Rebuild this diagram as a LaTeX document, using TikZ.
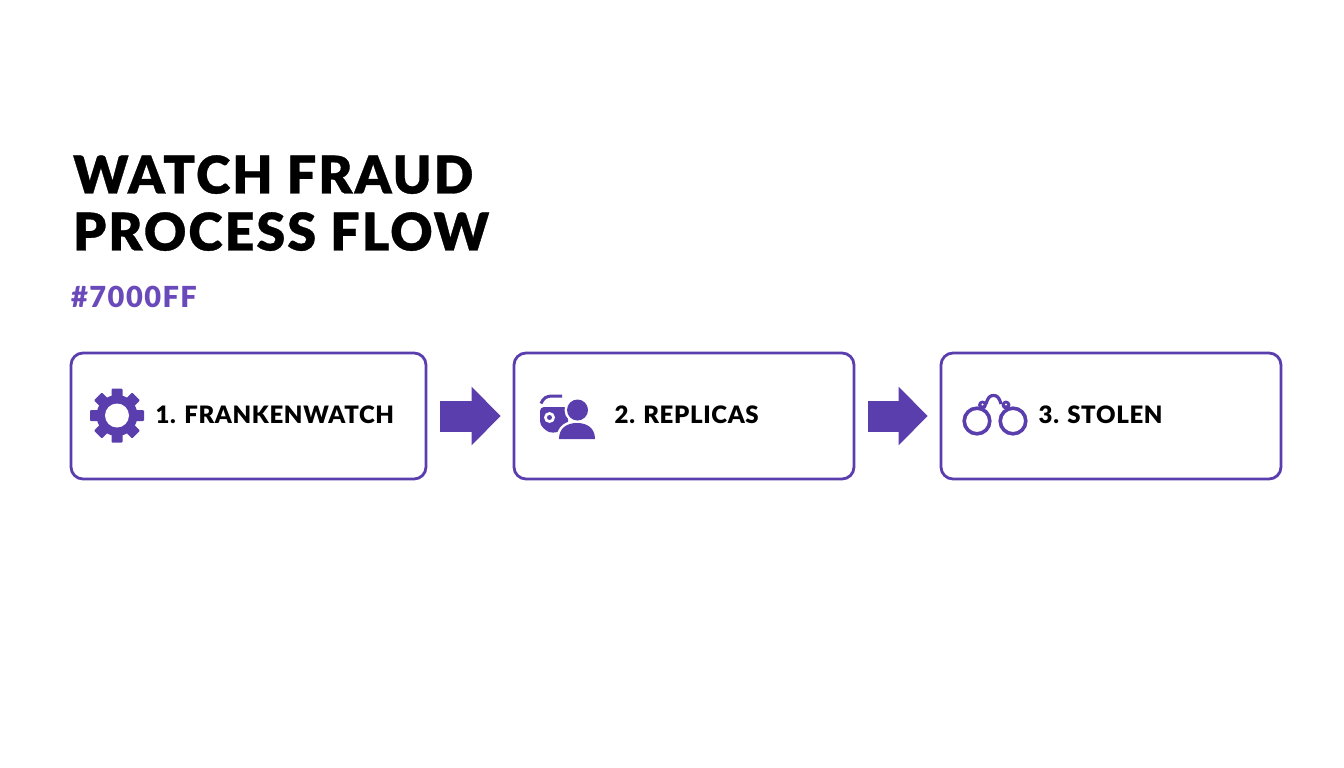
\documentclass[tikz,border=0pt]{standalone}
\usepackage{fontspec}
\setmainfont{Lato}
\newfontfamily\titlefont{Lato}[BoldFont={Lato Black},BoldFeatures={FakeBold=0.6,LetterSpace=4}]
\newfontfamily\labelfont{Lato}[BoldFont={Lato Black},BoldFeatures={LetterSpace=2.7}]
\newfontfamily\tagfont{Lato}[BoldFont={Lato Black},BoldFeatures={LetterSpace=5}]
\usetikzlibrary{arrows.meta}
\definecolor{fraudpurple}{HTML}{5A3EAE}
\definecolor{tagpurple}{HTML}{6A4ABA}
\tikzset{
    stepbox/.style={draw=fraudpurple,line width=2.8pt,rounded corners=12pt,minimum height=126pt,inner sep=0pt},
    steplabel/.style={anchor=base west,inner sep=0pt,font=\fontsize{24}{28}\labelfont\bfseries},
    blockarrow/.style={draw=fraudpurple,line width=31pt,-{Triangle[length=29pt,width=57pt]},shorten <=13pt,shorten >=12pt}
}
\begin{document}
\begin{tikzpicture}[x=1pt,y=-1pt]
        \useasboundingbox (0,0) rectangle (1344,768);

        % heading
        \node[anchor=north west,inner sep=0pt,align=left,font=\fontsize{52}{57}\titlefont\bfseries] (title) at (73,155) {WATCH FRAUD\\PROCESS FLOW};
        \node[anchor=base west,inner sep=0pt,text=tagpurple,font=\fontsize{29}{32}\tagfont\bfseries] (tag) at (71,307) {\#7000FF};

        % the three boxes
        \node[stepbox,minimum width=355pt] (frankenwatch) at (248.5,416) {};
        \node[stepbox,minimum width=340pt] (replicas) at (684,416) {};
        \node[stepbox,minimum width=340pt] (stolen) at (1111,416) {};

        \node[steplabel] (frankenlabel) at (155.5,423) {1. FRANKENWATCH};
        \node[steplabel] (replicalabel) at (614.5,423) {2. REPLICAS};
        \node[steplabel] (stolenlabel) at (1038.5,423) {3. STOLEN};

        % arrows between boxes
        \draw[blockarrow] (frankenwatch.east) -- (replicas.west);
        \draw[blockarrow] (replicas.east) -- (stolen.west);

        % gear
        \foreach \x in {0,45,...,315} {
                \fill[fraudpurple,rounded corners=1pt,shift={(117,415.5)},rotate=\x] (-5.5,-27) rectangle (5.5,-14);
        }
        \fill[fraudpurple] (117,415.5) circle(20.5);
        \fill[white] (117,415.5) circle(12);

        % camera and person
        \fill[fraudpurple,rounded corners=4pt] (540,407) -- (568,407) -- (568,431) -- (549,433) -- (540,425) -- cycle;
        \fill[white] (549.5,417.5) circle(5.5);
        \fill[fraudpurple] (549.5,417.5) circle(2.5);
        \draw[fraudpurple,line width=3pt] (541,403.5) .. controls (543,398) and (547,396) .. (552,396) -- (562,396);
        \fill[white] (577.5,410) circle(13);
        \draw[white,fill=white,line width=5pt] (559,439) .. controls (559,428) and (567,423) .. (577,423) .. controls (587,423) and (595,428) .. (595,439) -- cycle;
        \fill[fraudpurple] (577.5,410) circle(10.5);
        \fill[fraudpurple] (559,439) .. controls (559,428) and (567,423) .. (577,423) .. controls (587,423) and (595,428) .. (595,439) -- cycle;

        % handcuffs
        \foreach \x in {977,1013} {
                \draw[fraudpurple,line width=3.6pt] (\x,421) circle(12.8);
        }
        \foreach \x in {982.5,1006} {
                \fill[fraudpurple] (\x,405) circle(4.5);
                \fill[white] (\x,404.5) circle(1.1);
        }
        \draw[fraudpurple,line width=3.2pt] (986,404) .. controls (988,397) and (990,395.5) .. (993.5,395.5) .. controls (997,395.5) and (999,397) .. (1001,404);
\end{tikzpicture}
\end{document}
